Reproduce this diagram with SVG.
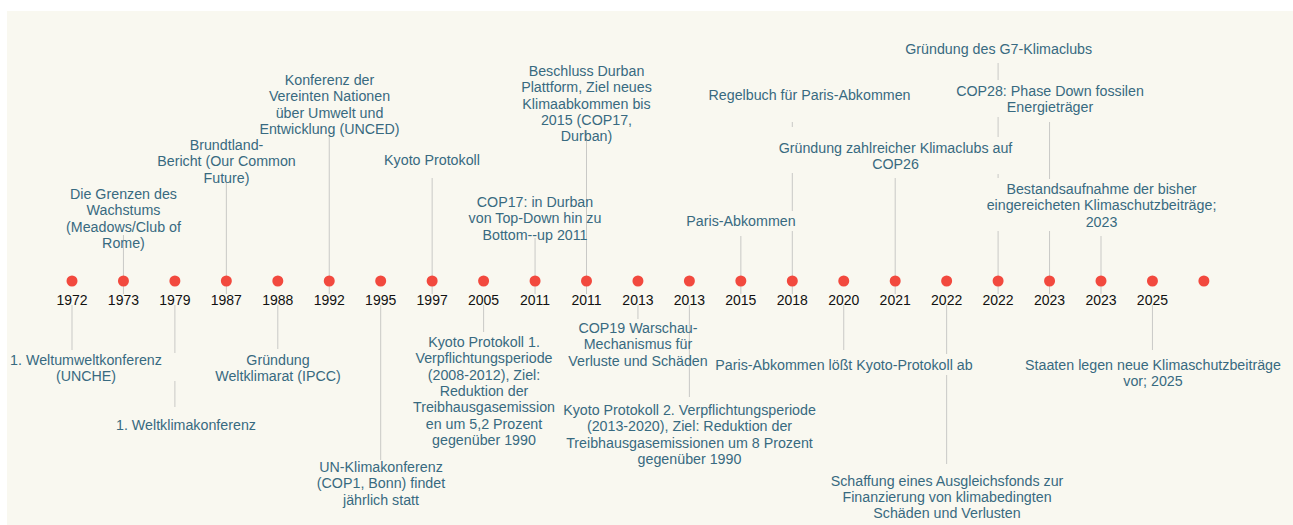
<svg xmlns="http://www.w3.org/2000/svg" width="1293" height="525" viewBox="0 0 1293 525">
<style>
.bg{fill:#f9f8f0}
.dot{fill:#f2493e}
.yr{font-family:"Liberation Sans",Arial,sans-serif;font-size:14px;fill:#111;text-anchor:middle}
.ev{font-family:"Liberation Sans",Arial,sans-serif;font-size:14.25px;fill:#386a80;text-anchor:middle}
.stem{stroke:#c9c9c6;stroke-width:1;fill:none}
</style>
<rect x="0" y="0" width="1293" height="525" fill="#ffffff"/>
<rect class="bg" x="7" y="11" width="1286" height="514"/>
<g id="connectors">
<path class="stem" d="M123.45 235V294 M226.35 182V294 M329.25 134V294 M432.15 178V294 M535.05 238V294 M586.5 130V294 M740.85 236V294 M792.3 122V127 M792.3 173V211 M792.3 231V294 M895.2 178V294 M998.1 63V80 M998.1 117V137 M998.1 174V178 M998.1 231V294 M1049.55 122V179 M1049.55 231V294 M1101 236V294"/>
<path class="stem" d="M72 305V350 M174.9 305V353 M174.9 381V407 M277.8 305V349 M380.7 305V460 M483.6 305V332 M637.95 305V319 M689.4 305V397 M843.75 305V350 M946.65 305V354 M946.65 375V464 M1152.45 305V350"/>
</g>
<g id="n1972"><circle class="dot" cx="72" cy="281" r="5.5"/><text class="yr" x="72" y="305">1972</text>
<text class="ev" x="86" y="365">1. Weltumweltkonferenz<tspan x="86" dy="16.3">(UNCHE)</tspan></text></g>
<g id="n1973"><circle class="dot" cx="123.45" cy="281" r="5.5"/><text class="yr" x="123.45" y="305">1973</text>
<text class="ev" x="123.5" y="199">Die Grenzen des<tspan x="123.5" dy="16.3">Wachstums</tspan><tspan x="123.5" dy="16.3">(Meadows/Club of</tspan><tspan x="123.5" dy="16.3">Rome)</tspan></text></g>
<g id="n1979"><circle class="dot" cx="174.9" cy="281" r="5.5"/><text class="yr" x="174.9" y="305">1979</text>
<text class="ev" x="186" y="430">1. Weltklimakonferenz</text></g>
<g id="n1987"><circle class="dot" cx="226.35" cy="281" r="5.5"/><text class="yr" x="226.35" y="305">1987</text>
<text class="ev" x="226.5" y="150">Brundtland-<tspan x="226.5" dy="16.3">Bericht (Our Common</tspan><tspan x="226.5" dy="16.3">Future)</tspan></text></g>
<g id="n1988"><circle class="dot" cx="277.8" cy="281" r="5.5"/><text class="yr" x="277.8" y="305">1988</text>
<text class="ev" x="278" y="365">Gründung<tspan x="278" dy="16.3">Weltklimarat (IPCC)</tspan></text></g>
<g id="n1992"><circle class="dot" cx="329.25" cy="281" r="5.5"/><text class="yr" x="329.25" y="305">1992</text>
<text class="ev" x="329.5" y="85">Konferenz der<tspan x="329.5" dy="16.3">Vereinten Nationen</tspan><tspan x="329.5" dy="16.3">über Umwelt und</tspan><tspan x="329.5" dy="16.3">Entwicklung (UNCED)</tspan></text></g>
<g id="n1995"><circle class="dot" cx="380.7" cy="281" r="5.5"/><text class="yr" x="380.7" y="305">1995</text>
<text class="ev" x="381" y="472">UN-Klimakonferenz<tspan x="381" dy="16.3">(COP1, Bonn) findet</tspan><tspan x="381" dy="16.3">jährlich statt</tspan></text></g>
<g id="n1997"><circle class="dot" cx="432.15" cy="281" r="5.5"/><text class="yr" x="432.15" y="305">1997</text>
<text class="ev" x="432" y="165">Kyoto Protokoll</text></g>
<g id="n2005"><circle class="dot" cx="483.6" cy="281" r="5.5"/><text class="yr" x="483.6" y="305">2005</text>
<text class="ev" x="484" y="347">Kyoto Protokoll 1.<tspan x="484" dy="16.3">Verpflichtungsperiode</tspan><tspan x="484" dy="16.3">(2008-2012), Ziel:</tspan><tspan x="484" dy="16.3">Reduktion der</tspan><tspan x="484" dy="16.3">Treibhausgasemission</tspan><tspan x="484" dy="16.3">en um 5,2 Prozent</tspan><tspan x="484" dy="16.3">gegenüber 1990</tspan></text></g>
<g id="n2011a"><circle class="dot" cx="535.05" cy="281" r="5.5"/><text class="yr" x="535.05" y="305">2011</text>
<text class="ev" x="535" y="207">COP17: in Durban<tspan x="535" dy="16.3">von Top-Down hin zu</tspan><tspan x="535" dy="16.3">Bottom--up 2011</tspan></text></g>
<g id="n2011b"><circle class="dot" cx="586.5" cy="281" r="5.5"/><text class="yr" x="586.5" y="305">2011</text>
<text class="ev" x="586.5" y="76">Beschluss Durban<tspan x="586.5" dy="16.3">Plattform, Ziel neues</tspan><tspan x="586.5" dy="16.3">Klimaabkommen bis</tspan><tspan x="586.5" dy="16.3">2015 (COP17,</tspan><tspan x="586.5" dy="16.3">Durban)</tspan></text></g>
<g id="n2013a"><circle class="dot" cx="637.95" cy="281" r="5.5"/><text class="yr" x="637.95" y="305">2013</text>
<text class="ev" x="638" y="333">COP19 Warschau-<tspan x="638" dy="16.3">Mechanismus für</tspan><tspan x="638" dy="16.3">Verluste und Schäden</tspan></text></g>
<g id="n2013b"><circle class="dot" cx="689.4" cy="281" r="5.5"/><text class="yr" x="689.4" y="305">2013</text>
<text class="ev" x="689.5" y="415">Kyoto Protokoll 2. Verpflichtungsperiode<tspan x="689.5" dy="16.3">(2013-2020), Ziel: Reduktion der</tspan><tspan x="689.5" dy="16.3">Treibhausgasemissionen um 8 Prozent</tspan><tspan x="689.5" dy="16.3">gegenüber 1990</tspan></text></g>
<g id="n2015"><circle class="dot" cx="740.85" cy="281" r="5.5"/><text class="yr" x="740.85" y="305">2015</text>
<text class="ev" x="741" y="226">Paris-Abkommen</text></g>
<g id="n2018"><circle class="dot" cx="792.3" cy="281" r="5.5"/><text class="yr" x="792.3" y="305">2018</text>
<text class="ev" x="809.5" y="100">Regelbuch für Paris-Abkommen</text></g>
<g id="n2020"><circle class="dot" cx="843.75" cy="281" r="5.5"/><text class="yr" x="843.75" y="305">2020</text>
<text class="ev" x="844" y="370">Paris-Abkommen lößt Kyoto-Protokoll ab</text></g>
<g id="n2021"><circle class="dot" cx="895.2" cy="281" r="5.5"/><text class="yr" x="895.2" y="305">2021</text>
<text class="ev" x="895.5" y="153">Gründung zahlreicher Klimaclubs auf<tspan x="895.5" dy="16.3">COP26</tspan></text></g>
<g id="n2022a"><circle class="dot" cx="946.65" cy="281" r="5.5"/><text class="yr" x="946.65" y="305">2022</text>
<text class="ev" x="947" y="485.7">Schaffung eines Ausgleichsfonds zur<tspan x="947" dy="16.3">Finanzierung von klimabedingten</tspan><tspan x="947" dy="16.3">Schäden und Verlusten</tspan></text></g>
<g id="n2022b"><circle class="dot" cx="998.1" cy="281" r="5.5"/><text class="yr" x="998.1" y="305">2022</text>
<text class="ev" x="998.7" y="54">Gründung des G7-Klimaclubs</text></g>
<g id="n2023a"><circle class="dot" cx="1049.55" cy="281" r="5.5"/><text class="yr" x="1049.55" y="305">2023</text>
<text class="ev" x="1050" y="96">COP28: Phase Down fossilen<tspan x="1050" dy="16.3">Energieträger</tspan></text></g>
<g id="n2023b"><circle class="dot" cx="1101" cy="281" r="5.5"/><text class="yr" x="1101" y="305">2023</text>
<text class="ev" x="1101.5" y="194">Bestandsaufnahme der bisher<tspan x="1101.5" dy="16.3">eingereicheten Klimaschutzbeiträge;</tspan><tspan x="1101.5" dy="16.3">2023</tspan></text></g>
<g id="n2025"><circle class="dot" cx="1152.45" cy="281" r="5.5"/><text class="yr" x="1152.45" y="305">2025</text>
<text class="ev" x="1153" y="370">Staaten legen neue Klimaschutzbeiträge<tspan x="1153" dy="16.3">vor; 2025</tspan></text></g>
<g id="nEnd"><circle class="dot" cx="1203.9" cy="281" r="5.5"/></g>
</svg>
